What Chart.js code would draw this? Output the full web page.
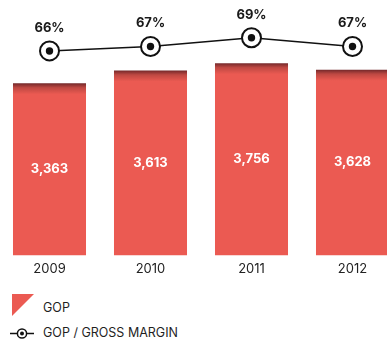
<!DOCTYPE html>
<html>
<head>
<meta charset="utf-8">
<script src="https://cdn.jsdelivr.net/npm/chart.js@4"></script>
<style>
  html, body { margin: 0; padding: 0; background: #fff; overflow: hidden; width: 387px; height: 345px; }
  #stage { position: relative; width: 387px; height: 345px; overflow: hidden; font-family: Inter, "Noto Sans", sans-serif; }
  #wrap { position: absolute; left: -1px; top: 0; width: 404px; height: 289px; }
  .legend-item { position: absolute; left: 0; font-size: 12.5px; color: #1f1f1f; }
  .legend-item svg { position: absolute; }
  .legend-item span { position: absolute; left: 43px; white-space: nowrap; line-height: 1; }
</style>
</head>
<body>
<div id="stage">
  <div id="wrap"><canvas id="chart" width="404" height="289"></canvas></div>

  <div class="legend-item" style="top:294px;">
    <svg width="23" height="23" style="left:12px;top:0;"><polygon points="0,0 22,0 0,22" fill="#EB5A52"/></svg>
    <span style="top:8px;">GOP</span>
  </div>
  <div class="legend-item" style="top:327px;">
    <svg width="26" height="13" style="left:10px;top:0;">
      <line x1="0" y1="6.5" x2="24" y2="6.5" stroke="#111" stroke-width="1.5"/>
      <circle cx="12" cy="6.5" r="4.6" fill="#fff" stroke="#111" stroke-width="1.5"/>
      <circle cx="12" cy="6.5" r="2" fill="#111"/>
    </svg>
    <span style="top:0px;">GOP / GROSS MARGIN</span>
  </div>
</div>

<script>
// Years shown along the bottom
const years = ['2009', '2010', '2011', '2012'];
// Gross operating profit per year
const gop = [3363, 3613, 3756, 3628];
// GOP as a share of gross margin, in percent
const gopMargin = [66, 67, 69, 67];

const RED = '#EB5A52';
const DARK_RED = '#72282A';

// Bars get a soft dark shading at their top edge
function barFill(ctx) {
  const chart = ctx.chart;
  if (!chart.chartArea || ctx.type !== 'data') return RED;
  const top = chart.scales.y.getPixelForValue(ctx.raw);
  const g = chart.ctx.createLinearGradient(0, top, 0, top + 11);
  g.addColorStop(0, DARK_RED);
  g.addColorStop(0.4, '#BE4842');
  g.addColorStop(1, RED);
  return g;
}

// Value labels: white totals in the middle of each bar, percentages above the markers
const valueLabels = {
  id: 'valueLabels',
  afterDatasetsDraw(chart) {
    const c = chart.ctx;
    c.save();
    c.textAlign = 'center';
    c.textBaseline = 'middle';

    const bars = chart.getDatasetMeta(0);
    c.fillStyle = '#ffffff';
    c.font = 'bold 13px Inter, "Noto Sans", sans-serif';
    bars.data.forEach((el, i) => {
      const mid = (el.y + el.base) / 2;
      c.fillText(gop[i].toLocaleString('en-US'), el.x, mid);
    });

    const line = chart.getDatasetMeta(1);
    c.fillStyle = '#1a1a1a';
    line.data.forEach((el, i) => {
      c.fillText(gopMargin[i] + '%', el.x, el.y - 23);
    });
    c.restore();
  }
};

new Chart(document.getElementById('chart'), {
  data: {
    labels: years,
    datasets: [
      {
        type: 'bar',
        label: 'GOP',
        data: gop,
        yAxisID: 'y',
        backgroundColor: barFill,
        borderWidth: 0,
        categoryPercentage: 1,
        barPercentage: 0.723,
        order: 3
      },
      {
        type: 'line',
        label: 'GOP / GROSS MARGIN',
        data: gopMargin,
        yAxisID: 'y1',
        borderColor: '#111',
        borderWidth: 1.5,
        pointRadius: 9.5,
        pointBorderWidth: 2,
        pointBackgroundColor: '#fff',
        pointBorderColor: '#111',
        tension: 0,
        clip: false,
        order: 1
      },
      {
        type: 'line',
        label: 'marker centre',
        data: gopMargin,
        yAxisID: 'y1',
        showLine: false,
        pointRadius: 3.7,
        pointBorderWidth: 0,
        pointBackgroundColor: '#111',
        clip: false,
        order: 0
      }
    ]
  },
  options: {
    responsive: false,
    animation: false,
    devicePixelRatio: 1,
    layout: { autoPadding: false, padding: { top: 0, left: 0, right: 0, bottom: 6 } },
    plugins: {
      legend: { display: false },
      tooltip: { enabled: false }
    },
    scales: {
      x: {
        offset: true,
        grid: { display: false, drawTicks: false },
        border: { display: false },
        ticks: {
          padding: 6,
          color: '#222',
          font: { family: 'Inter, "Noto Sans", sans-serif', size: 13 }
        }
      },
      y: { display: false, min: 0, max: 4990 },
      y1: { display: false, min: 19.44, max: 77.6 }
    }
  },
  plugins: [valueLabels]
});
</script>
</body>
</html>
